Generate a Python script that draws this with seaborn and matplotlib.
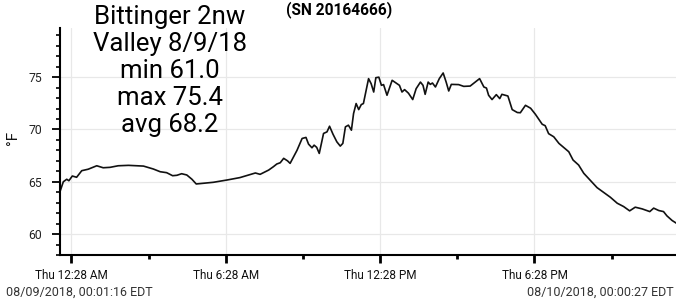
import matplotlib
matplotlib.use("Agg")
import matplotlib.pyplot as plt
import matplotlib.dates as mdates
from matplotlib.ticker import MultipleLocator
import seaborn as sns
import pandas as pd

# minutes since 2018-08-09 00:00 (EDT)
minutes = [1, 9, 17, 22, 30, 40, 52, 67, 87, 102, 118, 137, 161, 196, 219, 235,
           250, 264, 274, 285, 297, 309, 319, 336, 359, 391, 421, 457, 468, 488,
           499, 507, 515, 523, 532, 538, 546, 554, 566, 575, 581, 589, 594, 600,
           606, 616, 624, 630, 638, 647, 655, 661, 667, 674, 681, 686, 692, 698,
           704, 709, 721, 727, 733, 738, 745, 751, 756, 764, 776, 785, 793, 799,
           805, 814, 824, 832, 842, 848, 853, 860, 865, 870, 877, 886, 895, 902,
           908, 914, 931, 943, 958, 980, 990, 996, 1001, 1009, 1019, 1027, 1032,
           1046, 1056, 1068, 1075, 1087, 1099, 1110, 1126, 1133, 1141, 1153,
           1165, 1176, 1188, 1198, 1211, 1223, 1239, 1254, 1270, 1285, 1301,
           1316, 1330, 1343, 1359, 1377, 1386, 1398, 1409, 1417, 1429, 1440]
temps = [64.06, 65.0, 65.24, 65.1, 65.55, 65.43, 66.06, 66.2, 66.53, 66.34, 66.38,
         66.53, 66.57, 66.5, 66.22, 65.96, 65.87, 65.58, 65.62, 65.77, 65.65,
         65.24, 64.79, 64.86, 64.95, 65.17, 65.4, 65.84, 65.71, 66.12, 66.44,
         66.7, 66.82, 67.24, 67.0, 66.76, 67.39, 68.0, 69.14, 69.24, 68.6, 68.25,
         68.5, 68.29, 67.71, 69.62, 69.77, 70.31, 69.55, 68.82, 68.41, 68.67,
         70.25, 70.41, 69.93, 71.52, 72.48, 71.9, 72.38, 72.48, 74.86, 74.38,
         73.58, 74.95, 75.0, 74.22, 74.29, 73.27, 74.7, 74.44, 74.22, 73.58,
         73.81, 73.47, 72.86, 73.9, 74.53, 74.22, 73.36, 74.53, 74.31, 74.44,
         74.06, 74.86, 75.4, 74.53, 73.68, 74.31, 74.29, 74.12, 74.15, 74.86,
         74.06, 73.96, 73.27, 72.86, 73.33, 72.95, 73.36, 73.2, 71.9, 71.62,
         71.6, 72.31, 72.03, 71.46, 70.5, 70.36, 69.6, 69.3, 68.67, 68.29, 67.87,
         67.08, 66.6, 65.81, 65.1, 64.44, 63.96, 63.52, 62.95, 62.63, 62.22,
         62.57, 62.41, 62.15, 62.48, 62.25, 62.15, 61.74, 61.3, 61.0]

start_time = "2018-08-09 00:01:16"
end_time = "2018-08-10 00:00:27"
major_ticks = ["2018-08-09 00:28", "2018-08-09 06:28", "2018-08-09 12:28", "2018-08-09 18:28"]
major_labels = ["Thu 12:28 AM", "Thu 6:28 AM", "Thu 12:28 PM", "Thu 6:28 PM"]
minor_ticks = ["2018-08-09 03:28", "2018-08-09 09:28", "2018-08-09 15:28", "2018-08-09 21:28"]
y_ticks = [60, 65, 70, 75]
title_lines = ["Bittinger 2nw", "Valley 8/9/18", "min 61.0", "max 75.4", "avg 68.2"]
serial = "(SN 20164666)"
y_label = "°F"
start_label = "08/09/2018, 00:01:16 EDT"
end_label = "08/10/2018, 00:00:27 EDT"

base = pd.Timestamp("2018-08-09 00:00")
df = pd.DataFrame({
    "time": [base + pd.Timedelta(minutes=m) for m in minutes],
    "temp": temps,
})
df.loc[0, "time"] = pd.Timestamp(start_time)
df.loc[len(df) - 1, "time"] = pd.Timestamp(end_time)

sns.set_theme(style="white")
plt.rcParams["font.family"] = ["Roboto", "DejaVu Sans"]

fig = plt.figure(figsize=(6.76, 3.05), dpi=100)
ax = fig.add_axes([60 / 676, 50 / 305, 617 / 676, 227 / 305])

sns.lineplot(data=df, x="time", y="temp", ax=ax, color="#111111", linewidth=1.2)

ax.set_xlim(pd.Timestamp(start_time), pd.Timestamp(end_time))
ax.set_ylim(58.0, 79.7)

ax.set_xticks([mdates.date2num(pd.Timestamp(t)) for t in major_ticks])
ax.set_xticklabels(major_labels)
ax.set_xticks([mdates.date2num(pd.Timestamp(t)) for t in minor_ticks], minor=True)
ax.set_yticks(y_ticks)
ax.set_yticklabels([str(v) for v in y_ticks])
ax.yaxis.set_minor_locator(MultipleLocator(1))

ax.grid(True, which="major", color="#e8e8e8", linewidth=0.9)
ax.set_axisbelow(True)
for s in ["top", "right"]:
    ax.spines[s].set_visible(False)
for s in ["left", "bottom"]:
    ax.spines[s].set_visible(True)
    ax.spines[s].set_color("black")
    ax.spines[s].set_linewidth(1.5)

ax.tick_params(axis="x", which="major", direction="out", length=6, width=2,
               color="black", labelsize=8.5, labelcolor="#111111", pad=4, bottom=True)
ax.tick_params(axis="x", which="minor", direction="out", length=3, width=2,
               color="black", bottom=True)
ax.tick_params(axis="y", which="major", direction="out", length=6, width=1.3,
               color="black", labelsize=8.8, labelcolor="#222222", pad=7, left=True)
ax.tick_params(axis="y", which="minor", direction="out", length=3, width=1.2,
               color="black", left=True)

ax.set_xlabel("")
ax.set_ylabel("")
fig.text(13 / 676, 1 - 138 / 305, y_label, rotation=90, ha="center", va="center",
         fontsize=11, color="#111111")

fig.text(170 / 676, 1 - 71 / 305, "\n".join(title_lines), ha="center", va="center",
         fontsize=18.5, color="black", linespacing=1.16)
fig.text(339 / 676, 1 - 10 / 305, serial, ha="center", va="center",
         fontsize=11.2, fontweight="bold", color="black")
fig.text(6 / 676, 1 - 292 / 305, start_label, ha="left", va="center",
         fontsize=9, color="#333333")
fig.text(674 / 676, 1 - 292 / 305, end_label, ha="right", va="center",
         fontsize=9, color="#333333")

fig.savefig("out.png", dpi=100)
